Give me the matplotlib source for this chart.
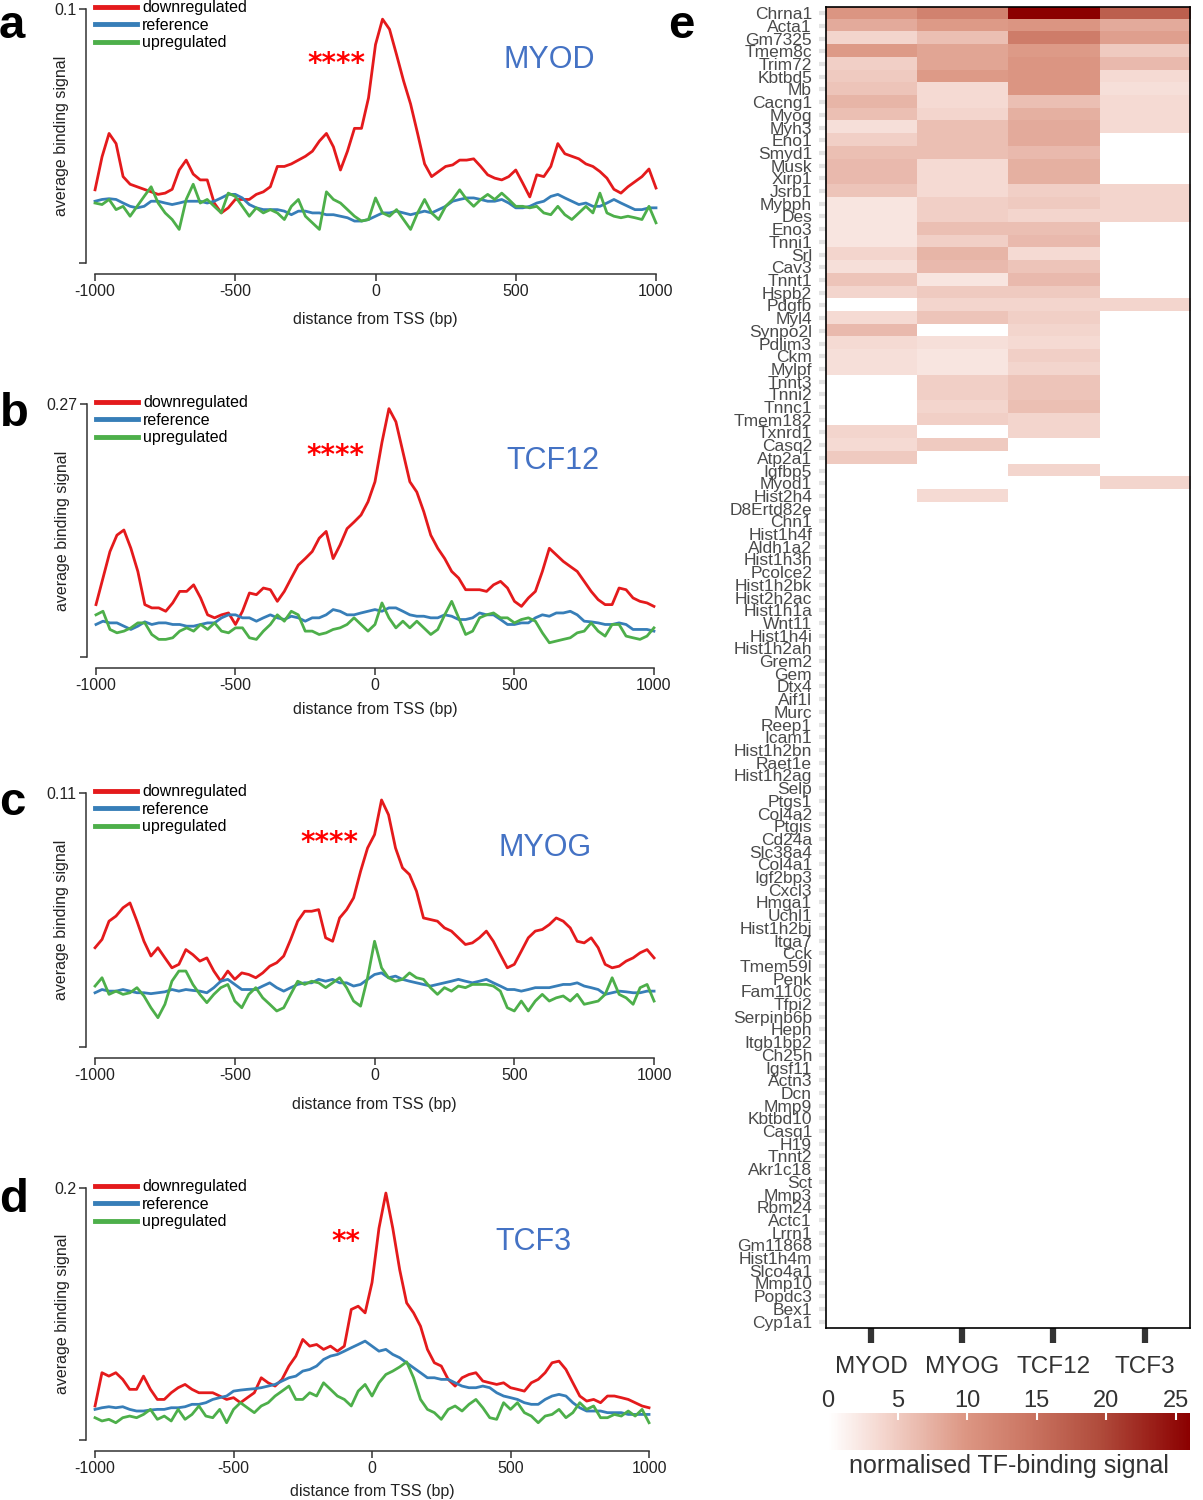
import matplotlib
matplotlib.use("Agg")
import matplotlib.pyplot as plt
import numpy as np
from matplotlib.colors import LinearSegmentedColormap

plt.rcParams["font.family"] = ["Liberation Sans", "DejaVu Sans"]
plt.rcParams["axes.unicode_minus"] = False

# --------------------------------------------------------------------------- #
# Profile data (average binding signal around the TSS, every 25 bp).
# --------------------------------------------------------------------------- #
distance = list(range(-1000, 1001, 25))

myod_down = [0.0288, 0.0418, 0.051, 0.047, 0.034, 0.031, 0.030, 0.029, 0.028, 0.027,
             0.0275, 0.029, 0.0366, 0.0405, 0.035, 0.0327, 0.0327, 0.0236, 0.0197, 0.0217,
             0.025, 0.025, 0.025, 0.027, 0.028, 0.030, 0.038, 0.038, 0.039, 0.0405,
             0.042, 0.044, 0.048, 0.051, 0.0457, 0.0366, 0.044, 0.053, 0.053, 0.065,
             0.086, 0.096, 0.092, 0.082, 0.0717, 0.0626, 0.051, 0.039, 0.034, 0.036,
             0.038, 0.0386, 0.0405, 0.0405, 0.041, 0.038, 0.0347, 0.0334, 0.0327, 0.034,
             0.0366, 0.0314, 0.026, 0.0347, 0.034, 0.038, 0.047, 0.043, 0.042, 0.041,
             0.039, 0.038, 0.036, 0.0334, 0.029, 0.0275, 0.030, 0.032, 0.034, 0.037, 0.0295]
myod_ref = [0.0243, 0.025, 0.0253, 0.025, 0.0236, 0.0223, 0.0217, 0.0223, 0.0243, 0.0243,
            0.0236, 0.023, 0.0236, 0.0243, 0.0243, 0.0243, 0.0236, 0.0243, 0.0256, 0.027,
            0.027, 0.0256, 0.023, 0.0217, 0.021, 0.021, 0.021, 0.0204, 0.019, 0.0204,
            0.0204, 0.0197, 0.0197, 0.019, 0.019, 0.0184, 0.0178, 0.0165, 0.0165, 0.0171,
            0.0184, 0.0197, 0.0197, 0.0204, 0.0197, 0.019, 0.0197, 0.0204, 0.0197, 0.021,
            0.0223, 0.0243, 0.025, 0.0256, 0.0256, 0.025, 0.0243, 0.0243, 0.025, 0.0236,
            0.0217, 0.0217, 0.0223, 0.0236, 0.0243, 0.0262, 0.027, 0.0256, 0.0243, 0.023,
            0.0236, 0.0223, 0.0223, 0.0236, 0.025, 0.0236, 0.0223, 0.021, 0.021, 0.0217, 0.0217]
myod_up = [0.0236, 0.023, 0.025, 0.021, 0.0223, 0.0184, 0.0223, 0.0262, 0.030, 0.0236,
           0.0197, 0.0171, 0.0132, 0.025, 0.031, 0.0236, 0.025, 0.0223, 0.0197, 0.0275,
           0.0262, 0.0223, 0.0184, 0.0217, 0.0197, 0.021, 0.0197, 0.0171, 0.0223, 0.025,
           0.0184, 0.0158, 0.0132, 0.028, 0.025, 0.0236, 0.021, 0.0184, 0.0165, 0.0171,
           0.0256, 0.0197, 0.0184, 0.021, 0.0171, 0.0132, 0.0197, 0.025, 0.0197, 0.0171,
           0.0223, 0.025, 0.0288, 0.025, 0.0223, 0.025, 0.027, 0.025, 0.0275, 0.025,
           0.0223, 0.0223, 0.0217, 0.0223, 0.0197, 0.019, 0.0223, 0.019, 0.0171, 0.0197,
           0.0223, 0.0197, 0.0275, 0.0197, 0.0184, 0.0178, 0.0184, 0.0178, 0.0171, 0.0223, 0.0158]

tcf12_down = [0.0559, 0.0842, 0.1125, 0.130, 0.1355, 0.116, 0.0913, 0.0559, 0.0524, 0.0524,
              0.0488, 0.0577, 0.070, 0.070, 0.077, 0.063, 0.045, 0.0418, 0.045, 0.047,
              0.0347, 0.0488, 0.0683, 0.0665, 0.0736, 0.0718, 0.0594, 0.070, 0.0842, 0.098,
              0.105, 0.1125, 0.1267, 0.134, 0.105, 0.1196, 0.137, 0.144, 0.1515, 0.1656,
              0.187, 0.229, 0.265, 0.251, 0.219, 0.187, 0.176, 0.155, 0.130, 0.116,
              0.105, 0.0913, 0.0842, 0.0718, 0.0718, 0.0718, 0.070, 0.077, 0.0807, 0.0736,
              0.0594, 0.054, 0.063, 0.070, 0.0913, 0.116, 0.109, 0.102, 0.0966, 0.0913,
              0.0807, 0.070, 0.0612, 0.0559, 0.0559, 0.0736, 0.0718, 0.063, 0.0594, 0.0577, 0.054]
tcf12_ref = [0.0347, 0.0382, 0.0364, 0.0364, 0.0329, 0.0294, 0.0329, 0.0375, 0.0347, 0.0364,
             0.0364, 0.0347, 0.0347, 0.0329, 0.0329, 0.0347, 0.0364, 0.0364, 0.0418, 0.045,
             0.045, 0.0418, 0.0418, 0.0382, 0.0418, 0.045, 0.0418, 0.040, 0.0435, 0.0418,
             0.0382, 0.0418, 0.0418, 0.045, 0.0506, 0.0488, 0.045, 0.045, 0.047, 0.0488,
             0.0506, 0.0488, 0.0524, 0.0524, 0.0488, 0.045, 0.0435, 0.0435, 0.0418, 0.0418,
             0.045, 0.0435, 0.040, 0.040, 0.0418, 0.047, 0.045, 0.045, 0.040, 0.0347,
             0.0347, 0.0364, 0.0364, 0.0418, 0.045, 0.0435, 0.047, 0.047, 0.0488, 0.045,
             0.0382, 0.0375, 0.0364, 0.0347, 0.0347, 0.0364, 0.0347, 0.0294, 0.0294, 0.0294, 0.0276]
tcf12_up = [0.045, 0.0488, 0.0294, 0.0258, 0.0276, 0.0311, 0.0364, 0.0364, 0.024, 0.0188,
            0.0188, 0.0205, 0.0276, 0.0311, 0.0276, 0.0347, 0.0294, 0.0364, 0.0276, 0.0258,
            0.0311, 0.0311, 0.0205, 0.0188, 0.0276, 0.0347, 0.045, 0.0382, 0.0488, 0.045,
            0.0276, 0.0276, 0.024, 0.0258, 0.0294, 0.0311, 0.0347, 0.0418, 0.0347, 0.0276,
            0.0347, 0.0577, 0.0418, 0.0311, 0.0382, 0.0311, 0.0382, 0.0311, 0.024, 0.0294,
            0.045, 0.0594, 0.0418, 0.024, 0.0276, 0.0418, 0.045, 0.047, 0.0418, 0.0418,
            0.0364, 0.040, 0.0418, 0.0382, 0.0258, 0.0152, 0.017, 0.0188, 0.0205, 0.0258,
            0.0276, 0.0364, 0.0276, 0.0223, 0.0347, 0.0347, 0.0223, 0.0205, 0.0188, 0.0223, 0.0311]

myog_down = [0.043, 0.0466, 0.0545, 0.0567, 0.0603, 0.0624, 0.0545, 0.0458, 0.0394, 0.043,
             0.0386, 0.0343, 0.0358, 0.0422, 0.040, 0.0372, 0.0386, 0.0329, 0.0285, 0.0329,
             0.0293, 0.0321, 0.0314, 0.030, 0.0321, 0.035, 0.0365, 0.0394, 0.0466, 0.0545,
             0.0588, 0.0588, 0.0595, 0.0473, 0.0458, 0.0559, 0.0595, 0.0646, 0.0761, 0.0862,
             0.092, 0.107, 0.1006, 0.0862, 0.0776, 0.0747, 0.0675, 0.0559, 0.0552, 0.0545,
             0.0516, 0.0502, 0.0473, 0.0444, 0.0451, 0.0473, 0.0502, 0.0458, 0.040, 0.0343,
             0.0358, 0.0415, 0.0473, 0.0502, 0.0509, 0.053, 0.0559, 0.0545, 0.0516, 0.0458,
             0.0451, 0.0473, 0.043, 0.0358, 0.0343, 0.035, 0.0372, 0.0386, 0.0408, 0.0422, 0.0386]
myog_ref = [0.0235, 0.0249, 0.0242, 0.0242, 0.0249, 0.0242, 0.0235, 0.0235, 0.0231, 0.0235,
            0.0239, 0.0249, 0.0242, 0.0249, 0.0245, 0.0242, 0.0235, 0.0257, 0.0285, 0.0293,
            0.0271, 0.0249, 0.0249, 0.0249, 0.0264, 0.0278, 0.0257, 0.0242, 0.0257, 0.0271,
            0.0278, 0.0278, 0.0293, 0.0285, 0.0293, 0.0278, 0.0278, 0.0264, 0.0271, 0.0293,
            0.0314, 0.0321, 0.030, 0.0307, 0.0293, 0.0285, 0.0278, 0.0271, 0.0264, 0.0271,
            0.0278, 0.0285, 0.0293, 0.0285, 0.0278, 0.0285, 0.0293, 0.0278, 0.0264, 0.0249,
            0.0249, 0.0242, 0.0249, 0.0257, 0.0257, 0.0257, 0.0264, 0.0271, 0.0271, 0.0278,
            0.0264, 0.0257, 0.0249, 0.0228, 0.0235, 0.0242, 0.0239, 0.0235, 0.0235, 0.0242, 0.0242]
myog_up = [0.0264, 0.030, 0.0228, 0.0242, 0.0228, 0.0235, 0.0257, 0.0221, 0.017, 0.0127,
           0.0185, 0.0285, 0.0329, 0.0329, 0.0271, 0.0228, 0.0192, 0.0228, 0.0257, 0.0271,
           0.0199, 0.017, 0.0228, 0.0257, 0.0213, 0.0185, 0.0156, 0.017, 0.0228, 0.0285,
           0.0271, 0.0285, 0.0278, 0.0257, 0.0278, 0.030, 0.0257, 0.0199, 0.0177, 0.030,
           0.0458, 0.0343, 0.030, 0.0285, 0.0293, 0.0321, 0.030, 0.0293, 0.0257, 0.0228,
           0.0257, 0.0242, 0.0264, 0.0257, 0.0271, 0.0271, 0.0271, 0.0264, 0.0242, 0.017,
           0.0156, 0.0199, 0.0156, 0.0199, 0.0228, 0.0199, 0.0213, 0.0221, 0.0199, 0.0228,
           0.0185, 0.0192, 0.0199, 0.0228, 0.030, 0.0228, 0.0213, 0.0185, 0.0257, 0.0271, 0.0199]

tcf3_down = [0.027, 0.0534, 0.0507, 0.0534, 0.0481, 0.0402, 0.0402, 0.0507, 0.0402, 0.0322,
             0.0322, 0.0375, 0.0415, 0.0441, 0.0402, 0.0375, 0.0375, 0.0375, 0.0349, 0.0322,
             0.0336, 0.0296, 0.0336, 0.0375, 0.0494, 0.0454, 0.0428, 0.0481, 0.0587, 0.0666,
             0.0798, 0.0745, 0.0758, 0.0719, 0.0745, 0.0705, 0.0745, 0.1036, 0.1062, 0.1009,
             0.125, 0.168, 0.196, 0.168, 0.135, 0.1088, 0.1009, 0.0903, 0.0719, 0.0613,
             0.0587, 0.0481, 0.0428, 0.0494, 0.052, 0.0534, 0.0468, 0.0454, 0.0441, 0.0454,
             0.0415, 0.0402, 0.0388, 0.0454, 0.0481, 0.0534, 0.0613, 0.0626, 0.056, 0.0454,
             0.0349, 0.0309, 0.0322, 0.0296, 0.0349, 0.0349, 0.0336, 0.0322, 0.0296, 0.027, 0.0256]
tcf3_ref = [0.0243, 0.0256, 0.0264, 0.0256, 0.0264, 0.0243, 0.023, 0.023, 0.0238, 0.0243,
            0.0243, 0.0256, 0.0256, 0.0264, 0.0283, 0.0283, 0.0296, 0.0322, 0.0336, 0.0349,
            0.0388, 0.0396, 0.0402, 0.0407, 0.0415, 0.0428, 0.0441, 0.0468, 0.0494, 0.0507,
            0.0547, 0.056, 0.0587, 0.0639, 0.0666, 0.0679, 0.0705, 0.0732, 0.0758, 0.0785,
            0.0745, 0.0705, 0.0719, 0.0679, 0.0653, 0.0613, 0.0573, 0.0534, 0.0494, 0.0494,
            0.0481, 0.0481, 0.0454, 0.0428, 0.0415, 0.0415, 0.0428, 0.0415, 0.0375, 0.0349,
            0.0336, 0.0322, 0.0296, 0.0283, 0.0283, 0.0322, 0.0349, 0.0362, 0.0349, 0.0296,
            0.0256, 0.023, 0.023, 0.023, 0.0217, 0.0217, 0.0217, 0.0203, 0.0203, 0.0203, 0.0203]
tcf3_up = [0.0177, 0.0151, 0.0164, 0.0137, 0.0177, 0.019, 0.0177, 0.0203, 0.0243, 0.0164,
           0.019, 0.0151, 0.0243, 0.0164, 0.0203, 0.027, 0.019, 0.0177, 0.0243, 0.0137,
           0.0243, 0.0296, 0.0256, 0.0217, 0.027, 0.0296, 0.0349, 0.0388, 0.0428, 0.0322,
           0.0322, 0.0375, 0.0349, 0.0454, 0.0402, 0.0349, 0.0322, 0.027, 0.0388, 0.0441,
           0.0349, 0.0454, 0.052, 0.0547, 0.058, 0.062, 0.0494, 0.0322, 0.0243, 0.0217,
           0.0164, 0.0243, 0.027, 0.023, 0.0283, 0.0322, 0.0256, 0.0177, 0.0164, 0.0296,
           0.0243, 0.0296, 0.0217, 0.019, 0.0137, 0.019, 0.0203, 0.0243, 0.0177, 0.0217,
           0.0296, 0.0243, 0.027, 0.0177, 0.0177, 0.0203, 0.019, 0.023, 0.019, 0.0243, 0.0137]

# --------------------------------------------------------------------------- #
# Heatmap data (normalised TF-binding signal per gene).
# --------------------------------------------------------------------------- #
genes = [
    "Chrna1", "Acta1", "Gm7325", "Tmem8c", "Trim72", "Kbtbd5", "Mb", "Cacng1",
    "Myog", "Myh3", "Eno1", "Smyd1", "Musk", "Xirp1", "Jsrb1", "Mybph", "Des",
    "Eno3", "Tnni1", "Srl", "Cav3", "Tnnt1", "Hspb2", "Pdgfb", "Myl4", "Synpo2l",
    "Pdlim3", "Ckm", "Mylpf", "Tnnt3", "Tnni2", "Tnnc1", "Tmem182", "Txnrd1",
    "Casq2", "Atp2a1", "Igfbp5", "Myod1", "Hist2h4", "D8Ertd82e", "Chn1",
    "Hist1h4f", "Aldh1a2", "Hist1h3h", "Pcolce2", "Hist1h2bk", "Hist2h2ac",
    "Hist1h1a", "Wnt11", "Hist1h4i", "Hist1h2ah", "Grem2", "Gem", "Dtx4", "Aif1l",
    "Murc", "Reep1", "Icam1", "Hist1h2bn", "Raet1e", "Hist1h2ag", "Selp", "Ptgs1",
    "Col4a2", "Ptgis", "Cd24a", "Slc38a4", "Col4a1", "Igf2bp3", "Cxcl3", "Hmga1",
    "Uchl1", "Hist1h2bj", "Itga7", "Cck", "Tmem59l", "Penk", "Fam110c", "Tfpi2",
    "Serpinb6b", "Heph", "Itgb1bp2", "Ch25h", "Igsf11", "Actn3", "Dcn", "Mmp9",
    "Kbtbd10", "Casq1", "H19", "Tnnt2", "Akr1c18", "Sct", "Mmp3", "Rbm24", "Actc1",
    "Lrrn1", "Gm11868", "Hist1h4m", "Slco4a1", "Mmp10", "Popdc3", "Bex1", "Cyp1a1",
]
tfs = ["MYOD", "MYOG", "TCF12", "TCF3"]

# signal for the first 39 genes (Chrna1 ... Hist2h4); all later genes show none
sig_myod = [10, 8, 4, 9.5, 4.5, 5, 5.5, 7, 6, 3, 4.5, 6, 6.5, 6.5, 5.5, 2.5, 2.5,
            2.5, 2.5, 4, 3, 5.5, 4, 0, 3.5, 6.5, 3.5, 3, 3, 0, 0, 0, 0, 4, 3.5, 5,
            0, 0, 0]
sig_myog = [12.5, 9.5, 6, 8.5, 8.5, 9.5, 3.5, 3.5, 4, 6, 6, 6, 3.5, 3.5, 3.5, 4.5,
            4.5, 6, 4.5, 7, 6.5, 2.5, 5, 4, 5.5, 0, 3, 2.5, 2.5, 4.5, 4.5, 4, 4.5,
            0, 5, 0, 0, 0, 3.5]
sig_tcf12 = [26, 10, 13.5, 9.5, 10, 10, 10, 6, 7.5, 8, 8, 6.5, 7.5, 7.5, 4.5, 5, 4,
             6, 6.5, 3.5, 5.5, 6.5, 5, 4, 4.5, 4, 3.5, 4.5, 4, 5.5, 5.5, 6, 4, 4,
             0, 0, 4, 0, 0]
sig_tcf3 = [17, 8, 9, 5, 6.5, 3.5, 3, 3.5, 3.5, 3.5,
            0, 0, 0, 0,
            4, 4, 4,
            0, 0, 0, 0, 0, 0,
            4,
            0, 0, 0, 0, 0, 0, 0, 0, 0, 0, 0, 0, 0,
            4, 0]

RED = "#e41a1c"
BLUE = "#377eb8"
GREEN = "#4daf4a"
AXIS = "#333333"
TF_BLUE = "#4472c4"

heat_cmap = LinearSegmentedColormap.from_list(
    "tf_reds",
    [(0.0, "#ffffff"), (0.15, "#f4d6ce"), (0.38, "#dc9683"),
     (0.55, "#cb7663"), (0.75, "#b04c3c"), (1.0, "#8b0000")],
)


# --------------------------------------------------------------------------- #
# Profile panels.
# --------------------------------------------------------------------------- #
def profile_panel(fig, rect, down, ref, up, ytop, ytop_label, tf, tf_xy,
                  stars, stars_xy, xlabel_y):
    ax = fig.add_axes(rect)
    ax.plot(distance, down, color=RED, lw=2, label="downregulated", clip_on=False)
    ax.plot(distance, ref, color=BLUE, lw=2, label="reference", clip_on=False)
    ax.plot(distance, up, color=GREEN, lw=2, label="upregulated", clip_on=False)

    ax.set_xlim(-1000, 1000)
    ax.set_ylim(0, ytop)
    for side in ("top", "right"):
        ax.spines[side].set_visible(False)
    ax.spines["left"].set_position(("outward", 6.5))
    ax.spines["bottom"].set_position(("outward", 8))
    ax.spines["left"].set_bounds(0, ytop)
    ax.spines["bottom"].set_bounds(-1000, 1000)
    for side in ("left", "bottom"):
        ax.spines[side].set_color(AXIS)
        ax.spines[side].set_linewidth(1.1)

    ax.set_yticks([0, ytop])
    ax.set_yticklabels(["", ytop_label])
    ax.set_xticks([-1000, -500, 0, 500, 1000])
    ax.set_xticklabels(["-1000", "-500", "0", "500", "1000"])
    ax.tick_params(length=5, width=1.1, color=AXIS, labelsize=11.5,
                   labelcolor="#222222", pad=2)

    ax.set_xlabel("distance from TSS (bp)", fontsize=11.5, color="#222222")
    ax.xaxis.set_label_coords(0.5, xlabel_y)
    ax.set_ylabel("average binding signal", fontsize=11.5, color="#222222")
    ax.yaxis.set_label_coords(-0.046, 0.5)

    leg = ax.legend(loc="upper left", bbox_to_anchor=(0.0, 1.035), frameon=False,
                    fontsize=11.5, handlelength=2.6, handletextpad=0.35,
                    labelspacing=0.16, borderpad=0, borderaxespad=0)
    for h in leg.legend_handles:
        h.set_linewidth(3.5)

    ax.text(stars_xy[0], stars_xy[1], stars, transform=ax.transAxes, ha="center",
            va="center", color="#ff0000", fontsize=20, fontweight="bold",
            family=["DejaVu Sans"])
    ax.text(tf_xy[0], tf_xy[1], tf, transform=ax.transAxes, ha="center",
            va="center", color=TF_BLUE, fontsize=22)
    return ax


fig = plt.figure(figsize=(12.03, 15), dpi=100)

profile_panel(fig, [0.0790, 0.8247, 0.4663, 0.1693], myod_down, myod_ref, myod_up,
              0.1, "0.1", "MYOD", (0.809, 0.799), "****", (0.4296, 0.785), -0.193)
profile_panel(fig, [0.0798, 0.5620, 0.4638, 0.1687], tcf12_down, tcf12_ref, tcf12_up,
              0.27, "0.27", "TCF12", (0.819, 0.775), "****", (0.4296, 0.795), -0.178)
profile_panel(fig, [0.0790, 0.3020, 0.4647, 0.1693], myog_down, myog_ref, myog_up,
              0.11, "0.11", "MYOG", (0.805, 0.783), "****", (0.420, 0.805), -0.197)
profile_panel(fig, [0.0790, 0.0400, 0.4605, 0.1680], tcf3_down, tcf3_ref, tcf3_up,
              0.2, "0.2", "TCF3", (0.792, 0.786), "**", (0.453, 0.785), -0.175)

# --------------------------------------------------------------------------- #
# Heatmap.
# --------------------------------------------------------------------------- #
signal = np.zeros((len(genes), len(tfs)))
for j, col in enumerate([sig_myod, sig_myog, sig_tcf12, sig_tcf3]):
    signal[:len(col), j] = col

hax = fig.add_axes([0.6866, 0.1147, 0.3026, 0.8807])
im = hax.imshow(signal, cmap=heat_cmap, vmin=0, vmax=26, aspect="auto",
                interpolation="nearest")
hax.set_yticks(range(len(genes)))
hax.set_yticklabels(genes, fontsize=12.5, color="#4a4a4a")
hax.set_xticks(range(len(tfs)))
hax.set_xticklabels(tfs, fontsize=17.5, color=AXIS)
hax.tick_params(axis="y", length=5, width=3, color="#e3e3e3", pad=5)
hax.tick_params(axis="x", length=11, width=4.5, color=AXIS, pad=9)
for sp in hax.spines.values():
    sp.set_color("black")
    sp.set_linewidth(1.2)

cax = fig.add_axes([0.6883, 0.0333, 0.3009, 0.0247])
cb = fig.colorbar(im, cax=cax, orientation="horizontal", ticks=[0, 5, 10, 15, 20, 25])
cb.outline.set_visible(False)
cax.xaxis.set_ticks_position("top")
cax.tick_params(direction="in", color="white", length=5, width=1.5,
                labelsize=17, labelcolor=AXIS, pad=1)
fig.text(1009 / 1203, 1 - 1466 / 1500, "normalised TF-binding signal",
         ha="center", va="center", fontsize=18, color=AXIS)

# --------------------------------------------------------------------------- #
# Panel letters (baseline positions).
# --------------------------------------------------------------------------- #
for letter, x, y in [("a", 12, 38), ("b", 14, 426), ("c", 12, 815),
                     ("d", 14, 1212), ("e", 681, 38)]:
    fig.text(x / 1203, 1 - y / 1500, letter, ha="center", va="baseline",
             fontsize=34, fontweight="bold")

fig.savefig("out.png", dpi=100)
